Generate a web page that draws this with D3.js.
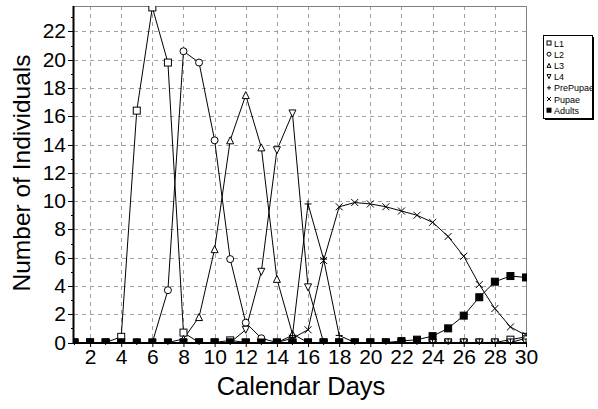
<!DOCTYPE html>
<html>
<head>
<meta charset="utf-8">
<script src="https://cdn.jsdelivr.net/npm/d3@7/dist/d3.min.js"></script>
<style>
  body { margin: 0; background: #fff; }
  svg { display: block; font-family: "Liberation Sans", Arial, sans-serif; }
</style>
</head>
<body>
<svg id="chart" width="598" height="409"></svg>
<script>
// days 1..30
const days = d3.range(1, 31)
const xTicks = [2,4,6,8,10,12,14,16,18,20,22,24,26,28,30]
const yTicks = [0,2,4,6,8,10,12,14,16,18,20,22]

const L1 = [0,0,0,0.4,16.4,23.7,19.8,0.7,0,0,0.15,0,0,0,0,0,0,0,0,0,0,0,0,0,0,0,0,0,0.2,0.4]
const L2 = [0,0,0,0,0,0,3.7,20.6,19.8,14.3,5.9,1.4,0.3,0,0,0,0,0,0,0,0,0,0,0,0,0,0,0,0,0.3]
const L3 = [0,0,0,0,0,0,0,0.25,1.8,6.6,14.3,17.5,13.8,4.5,0.6,0,0,0,0,0,0,0,0,0,0,0,0,0,0,0]
const L4 = [0,0,0,0,0,0,0,0,0,0,0,0.9,5.0,13.6,16.2,3.9,0,0,0,0,0,0,0,0,0,0,0,0,0,0]
const prePupae = [0,0,0,0,0,0,0,0,0,0,0,0,0,0,0.5,9.8,5.9,0.5,0,0,0,0,0,0,0,0,0,0,0,0]
const pupae = [0,0,0,0,0,0,0,0,0,0,0,0,0,0,0.3,0.9,5.8,9.6,9.9,9.8,9.6,9.3,9.0,8.5,7.5,6.1,4.1,2.4,1.1,0.5]
const adults = [0,0,0,0,0,0,0,0,0,0,0,0,0,0,0,0,0,0,0,0,0,0.1,0.2,0.45,1.0,1.9,3.2,4.3,4.7,4.6]

const seriesNames = ['L1','L2','L3','L4','PrePupae','Pupae','Adults']
const seriesValues = [L1,L2,L3,L4,prePupae,pupae,adults]
const seriesShapes = ['square','circle','triUp','triDown','plus','cross','filledSquare']

const svg = d3.select('#chart')
const pLeft = 74, pRight = 527, pTop = 6, pBottom = 343
const x = d3.scaleLinear().domain([1,30]).range([74.5,526])
const y = d3.scaleLinear().domain([0,23.8]).range([342.5,6])

svg.append('defs').append('clipPath').attr('id','plotClip')
  .append('rect').attr('x',pLeft).attr('y',pTop).attr('width',pRight-pLeft).attr('height',pBottom-pTop)

// grid
const grid = svg.append('g').attr('class','grid')
grid.append('g').selectAll('line').data(xTicks.filter(d=>d<30)).join('line')
  .attr('x1',d=>Math.round(x(d))+0.5).attr('x2',d=>Math.round(x(d))+0.5)
  .attr('y1',pTop).attr('y2',pBottom)
  .attr('stroke','#a0a0a0').attr('stroke-dasharray','4,4')
grid.append('g').selectAll('line').data(yTicks.filter(d=>d>0)).join('line')
  .attr('x1',pLeft).attr('x2',pRight)
  .attr('y1',d=>Math.round(y(d))+0.5).attr('y2',d=>Math.round(y(d))+0.5)
  .attr('stroke','#a0a0a0').attr('stroke-dasharray','4,4')

// frame top/right
svg.append('path').attr('d',`M${pLeft},${pTop+0.5}H${pRight-0.5}V${pBottom}`)
  .attr('fill','none').attr('stroke','#808080')

// axes
const yAxis = d3.axisLeft(y).tickValues(yTicks).tickSize(6).tickPadding(2)
const gy = svg.append('g').attr('transform',`translate(${pLeft},0)`).call(yAxis)
gy.select('.domain').remove()
gy.selectAll('text').attr('font-size',21).attr('fill','#000')
  .attr('font-family','"Liberation Sans", Arial, sans-serif')
gy.selectAll('.tick').attr('transform',d=>`translate(0,${Math.round(y(d))+0.5})`)
const yMinor = d3.range(1,24,2)
svg.append('g').selectAll('line').data(yMinor).join('line')
  .attr('x1',pLeft-3).attr('x2',pLeft).attr('y1',d=>Math.round(y(d))+0.5).attr('y2',d=>Math.round(y(d))+0.5)
  .attr('stroke','#000')

const xAxis = d3.axisBottom(x).tickValues(xTicks).tickSize(4).tickPadding(2)
const gx = svg.append('g').attr('transform',`translate(0,${pBottom})`).call(xAxis)
gx.select('.domain').remove()
gx.selectAll('text').attr('font-size',21).attr('fill','#000')
  .attr('font-family','"Liberation Sans", Arial, sans-serif')
svg.append('g').selectAll('line').data(days.filter(d=>d%2==1)).join('line')
  .attr('x1',d=>x(d)).attr('x2',d=>x(d)).attr('y1',pBottom).attr('y2',pBottom+2)
  .attr('stroke','#000')

// axis lines
svg.append('line').attr('x1',pLeft-0.5).attr('x2',pLeft-0.5).attr('y1',pTop).attr('y2',pBottom+1)
  .attr('stroke','#000').attr('stroke-width',2)
svg.append('line').attr('x1',pLeft-1).attr('x2',pRight).attr('y1',pBottom).attr('y2',pBottom)
  .attr('stroke','#000').attr('stroke-width',2)

// titles
svg.append('text').attr('transform','translate(30,173) rotate(-90)')
  .attr('text-anchor','middle').attr('font-size',24.5).text('Number of Individuals')
svg.append('text').attr('x',301).attr('y',395)
  .attr('text-anchor','middle').attr('font-size',25.5).text('Calendar Days')

// markers
function drawMarker(g, shape, s) {
  const h = s/2
  if (shape==='square') g.append('rect').attr('x',-h).attr('y',-h).attr('width',s).attr('height',s).attr('fill','#fff').attr('stroke','#000')
  else if (shape==='filledSquare') g.append('rect').attr('x',-h).attr('y',-h).attr('width',s).attr('height',s).attr('fill','#000').attr('stroke','#000')
  else if (shape==='circle') g.append('circle').attr('r',h).attr('fill','#fff').attr('stroke','#000')
  else if (shape==='triUp') g.append('path').attr('d',`M0,${-h}L${h},${h}L${-h},${h}Z`).attr('fill','#fff').attr('stroke','#000')
  else if (shape==='triDown') g.append('path').attr('d',`M0,${h}L${h},${-h}L${-h},${-h}Z`).attr('fill','#fff').attr('stroke','#000')
  else if (shape==='plus') g.append('path').attr('d',`M${-h},0H${h}M0,${-h}V${h}`).attr('stroke','#000')
  else if (shape==='cross') g.append('path').attr('d',`M${-h},${-h}L${h},${h}M${-h},${h}L${h},${-h}`).attr('stroke','#000')
}

const plot = svg.append('g').attr('clip-path','url(#plotClip)')
const line = d3.line().x((d,i)=>x(days[i])).y(d=>y(d))
seriesValues.forEach((vals,si)=>{
  plot.append('path').datum(vals).attr('d',line)
    .attr('fill','none').attr('stroke','#000').attr('stroke-width',1)
})
seriesValues.forEach((vals,si)=>{
  plot.append('g').selectAll('g').data(vals).join('g')
    .attr('transform',(d,i)=>`translate(${x(days[i])},${y(d)})`)
    .each(function(){ drawMarker(d3.select(this), seriesShapes[si], 7) })
})

// legend
const lg = svg.append('g').attr('transform','translate(543,35)')
lg.append('rect').attr('x',2).attr('y',2).attr('width',49).attr('height',83).attr('fill','#000')
lg.append('rect').attr('x',0.5).attr('y',0.5).attr('width',49).attr('height',83).attr('fill','#fff').attr('stroke','#000')
seriesNames.forEach((n,i)=>{
  const row = lg.append('g').attr('transform',`translate(6,${8+i*11.2})`)
  drawMarker(row.append('g'), seriesShapes[i], 4)
  row.append('text').attr('x',5).attr('y',3.5).attr('font-size',9).text(n)
})
</script>
</body>
</html>
